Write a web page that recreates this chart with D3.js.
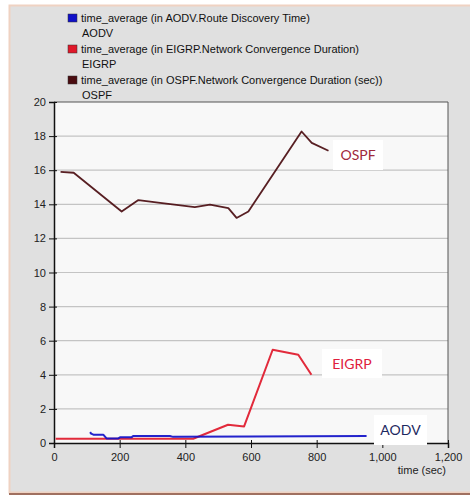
<!DOCTYPE html>
<html>
<head>
<meta charset="utf-8">
<script src="https://cdn.jsdelivr.net/npm/d3@7"></script>
<style>
  html, body { margin: 0; padding: 0; background: #fff; }
  svg { display: block; }
</style>
</head>
<body>
<svg id="chart" width="470" height="496"></svg>
<script>
// Simulation statistics: time_average of convergence / discovery time (sec)
const aodvTime  = [110, 113, 120, 150, 160, 196, 201, 236, 241, 353, 363, 600, 952];
const aodvValue = [0.64, 0.55, 0.49, 0.49, 0.27, 0.27, 0.33, 0.33, 0.41, 0.41, 0.36, 0.38, 0.41];

const eigrpTime  = [5, 424, 530, 579, 666, 744, 784];
const eigrpValue = [0.25, 0.25, 1.07, 0.97, 5.47, 5.18, 4.0];

const ospfTime  = [20, 60, 206, 257, 323, 429, 475, 531, 556, 592, 754, 785, 836];
const ospfValue = [15.9, 15.85, 13.58, 14.25, 14.08, 13.84, 13.98, 13.78, 13.2, 13.58, 18.27, 17.6, 17.14];

const xTicks = [0, 200, 400, 600, 800, 1000, 1200];
const yTicks = [0, 2, 4, 6, 8, 10, 12, 14, 16, 18, 20];

const legendTitles = [
  "time_average (in AODV.Route Discovery Time)",
  "time_average (in EIGRP.Network Convergence Duration)",
  "time_average (in OSPF.Network Convergence Duration (sec))"
];
const legendNames = ["AODV", "EIGRP", "OSPF"];
const seriesColors = ["#1010c8", "#e0182a", "#4a0c10"];
const labelColors = ["#1c2860", "#e0203c", "#a0283c"];

const svg = d3.select("#chart");
const font = "'Liberation Sans', Arial, sans-serif";

// outer panel
svg.append("rect").attr("x", 9.5).attr("y", 5.5).attr("width", 470).attr("height", 487)
  .attr("fill", "#e0e0e0").attr("stroke", "#efd2c2").attr("stroke-width", 2);
svg.append("line").attr("x1", 9).attr("x2", 470).attr("y1", 494).attr("y2", 494)
  .attr("stroke", "#a07060").attr("stroke-width", 2);

// legend
const legend = svg.append("g").attr("font-family", font).attr("font-size", 11).attr("fill", "#111");
legendTitles.forEach((t, i) => {
  const y = 18 + i * 31;
  legend.append("rect").attr("x", 68).attr("y", y - 4).attr("width", 9).attr("height", 8)
    .attr("fill", seriesColors[i]).attr("stroke", "#333").attr("stroke-width", 0.5);
  legend.append("text").attr("x", 81).attr("y", y + 4).text(t);
  legend.append("text").attr("x", 82).attr("y", y + 19).text(legendNames[i]);
});

// plot scales
const x = d3.scaleLinear().domain([0, 1200]).range([54, 448]);
const y = d3.scaleLinear().domain([0, 20]).range([443, 102]);

svg.append("rect").attr("x", x(0)).attr("y", y(20)).attr("width", x(1200) - x(0)).attr("height", y(0) - y(20))
  .attr("fill", "#f8f8f8");

// gridlines
svg.append("g").selectAll("line").data(yTicks.filter(d => d > 0 && d < 20)).join("line")
  .attr("x1", x(0)).attr("x2", x(1200)).attr("y1", d => y(d)).attr("y2", d => y(d))
  .attr("stroke", "#c4c4c4").attr("stroke-width", 1.2);

// frame: top and right edges
svg.append("path")
  .attr("d", `M${x(0)},${y(20)}H${x(1200)}V${y(0)}`)
  .attr("fill", "none").attr("stroke", "#555").attr("stroke-width", 1);

// axes
const xAxis = svg.append("g").attr("transform", `translate(0,${y(0)})`)
  .call(d3.axisBottom(x).tickValues(xTicks).tickSize(5).tickFormat(d3.format(",")));
const yAxis = svg.append("g").attr("transform", `translate(${x(0)},0)`)
  .call(d3.axisLeft(y).tickValues(yTicks).tickSize(5));
[xAxis, yAxis].forEach(a => {
  a.attr("font-family", font).attr("font-size", 11);
  a.select(".domain").attr("stroke", "#111").attr("stroke-width", 1.5);
  a.selectAll(".tick line").attr("stroke", "#111");
  a.selectAll(".tick text").attr("fill", "#222");
});
xAxis.selectAll(".tick line").attr("y1", -3).attr("y2", 5);
yAxis.selectAll(".tick line").attr("x1", 3).attr("x2", -5);
xAxis.selectAll(".tick text").attr("dy", "0.9em");

svg.append("text").attr("x", 446).attr("y", 474).attr("text-anchor", "end")
  .attr("font-family", font).attr("font-size", 11).attr("fill", "#222").text("time (sec)");

// series lines
const series = [
  { t: eigrpTime, v: eigrpValue, c: seriesColors[1], w: 2 },
  { t: aodvTime, v: aodvValue, c: seriesColors[0], w: 2 },
  { t: ospfTime, v: ospfValue, c: seriesColors[2], w: 1.8 }
];
const line = d3.line().x(d => x(d[0])).y(d => y(d[1]));
series.forEach(s => {
  svg.append("path").datum(s.t.map((t, i) => [t, s.v[i]]))
    .attr("d", line).attr("fill", "none")
    .attr("stroke", s.c).attr("stroke-width", s.w).attr("stroke-linejoin", "round")
    .attr("opacity", 0.92);
});

// series name tags
const tags = [
  { name: "OSPF", bx: 333, by: 140, bw: 50, bh: 30, col: labelColors[2] },
  { name: "EIGRP", bx: 322, by: 349, bw: 60, bh: 29, col: labelColors[1] },
  { name: "AODV", bx: 374, by: 415, bw: 53, bh: 30, col: labelColors[0] }
];
tags.forEach(tg => {
  svg.append("rect").attr("x", tg.bx).attr("y", tg.by).attr("width", tg.bw).attr("height", tg.bh)
    .attr("fill", "#ffffff");
  svg.append("text").attr("x", tg.bx + tg.bw / 2).attr("y", tg.by + tg.bh / 2 + 5)
    .attr("text-anchor", "middle").attr("font-family", "Lato, sans-serif")
    .attr("font-size", 14).attr("fill", tg.col).text(tg.name);
});
</script>
</body>
</html>
